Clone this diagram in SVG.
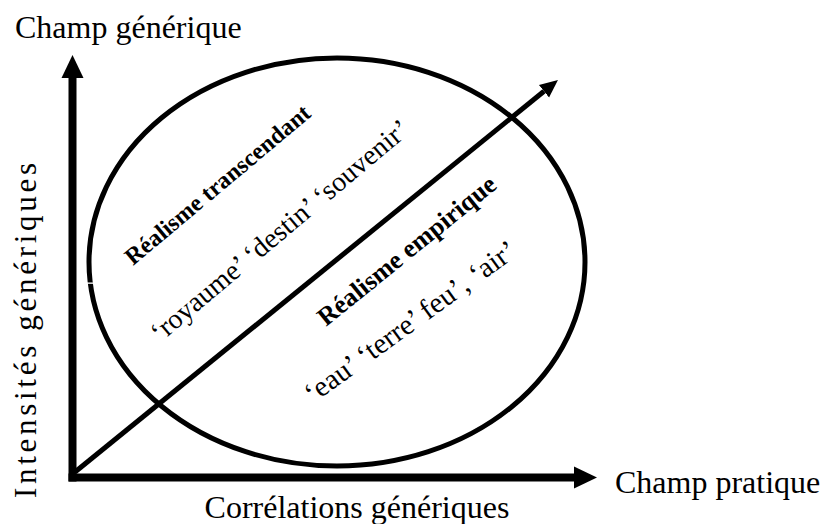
<svg xmlns="http://www.w3.org/2000/svg" width="822" height="524" viewBox="0 0 822 524">
<style>
.t{font-family:"Liberation Serif","Times New Roman",serif;fill:#000}
.b{font-weight:bold}
.ax{stroke:#000;stroke-width:8;fill:none;stroke-linecap:butt}
.dg{stroke:#000;stroke-width:5;fill:none}
.el{stroke:#000;stroke-width:5;fill:none}
</style>
<defs>
<marker id="axh" markerUnits="userSpaceOnUse" markerWidth="24" markerHeight="24" viewBox="0 -12 24 24" refX="0" refY="0" orient="auto">
<path d="M0,-11 L23,0 L0,11 z" fill="#000"/>
</marker>
<marker id="dgh" markerUnits="userSpaceOnUse" markerWidth="20" markerHeight="20" viewBox="0 -10 20 20" refX="0" refY="0" orient="auto">
<path d="M0,-8 L18,0 L0,8 z" fill="#000"/>
</marker>
</defs>
<rect width="822" height="524" fill="#fff"/>
<g id="ellipse">
<ellipse class="el" cx="337" cy="262" rx="248" ry="204"/>
<rect x="84" y="282.5" width="9" height="1.3" fill="#fff"/>
</g>
<g id="connectors">
<line class="dg" x1="75" y1="472" x2="544" y2="91.3" marker-end="url(#dgh)"/>
<line class="ax" x1="72.5" y1="481.5" x2="72.5" y2="78" marker-end="url(#axh)"/>
<line class="ax" x1="68.5" y1="477.5" x2="574" y2="477.5" marker-end="url(#axh)"/>
</g>
<g id="axis-labels">
<text class="t" x="15" y="38" font-size="32">Champ générique</text>
<text class="t" x="615" y="493" font-size="32">Champ pratique</text>
<text class="t" x="357" y="518" font-size="32" text-anchor="middle">Corrélations génériques</text>
<text class="t" font-size="31" text-anchor="middle" textLength="335" lengthAdjust="spacing" transform="translate(36,330.5) rotate(-90)">Intensités génériques</text>
</g>
<g id="realisme-transcendant">
<text class="t b" font-size="24" transform="translate(133,266) rotate(-40)">Réalisme transcendant</text>
<text class="t" font-size="28" transform="translate(160,343) rotate(-40)">‘royaume’ ‘destin’ ‘souvenir’</text>
</g>
<g id="realisme-empirique">
<text class="t b" font-size="26" transform="translate(326,327) rotate(-39)">Réalisme empirique</text>
<text class="t" font-size="29" transform="translate(313,404) rotate(-36)">‘eau’ ‘terre’ feu’, ‘air’</text>
</g>
</svg>
